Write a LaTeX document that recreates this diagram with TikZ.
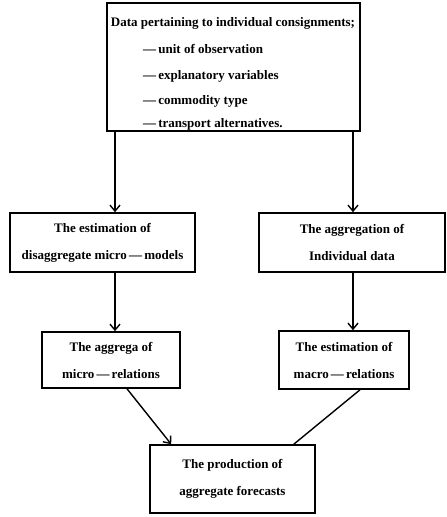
\documentclass[tikz,border=0pt]{standalone}
\usepackage{fontspec}
\setmainfont{Liberation Serif}
\usetikzlibrary{arrows.meta,calc}
\tikzset{
    box/.style={draw,line width=1.6pt,inner sep=0pt,align=center,font=\fontsize{13}{27}\selectfont\bfseries},
    txt/.style={inner sep=0pt,font=\fontsize{13}{16}\selectfont\bfseries},
    arr/.style={-{Straight Barb[length=6pt,width=10pt]},line width=1.4pt},
    link/.style={line width=1.4pt},
}

\begin{document}
\begin{tikzpicture}[x=1pt,y=-1pt]
    \useasboundingbox (0,0) rectangle (447,517);
    % data box
    \node[box,minimum width=253pt,minimum height=128pt] (data) at (233.5,67) {};
    \node[txt,anchor=base] (head) at (233,26) {Data pertaining to individual consignments;};
    \node[txt,anchor=base west] (unit) at (143,53) {—\,unit of observation};
    \node[txt,anchor=base west] (expl) at (143,79) {—\,explanatory variables};
    \node[txt,anchor=base west] (comm) at (143,104) {—\,commodity type};
    \node[txt,anchor=base west] (trans) at (143,127) {—\,transport alternatives.};
    % models
    \node[box,minimum width=185pt,minimum height=59pt] (estmicro) at (102.5,242.5) {The estimation of\\disaggregate micro\,—\,models};
    \node[box,minimum width=186pt,minimum height=59pt] (aggind) at (352,242.5) {The aggregation of\\Individual data};
    \node[box,minimum width=138pt,minimum height=56pt] (aggmicro) at (111,360) {The aggrega of\\micro\,—\,relations};
    \node[box,minimum width=130pt,minimum height=58pt] (estmacro) at (344,360) {The estimation of\\macro\,—\,relations};
    \node[box,minimum width=165pt,minimum height=68pt] (prod) at (232.5,479) {The production of\\aggregate forecasts};
    \coordinate (lx) at (115,0);
    \coordinate (rx) at (353,0);
    \draw[arr] (lx |- data.south) -- (lx |- estmicro.north);
    \draw[arr] (rx |- data.south) -- (rx |- aggind.north);
    \draw[arr] (lx |- estmicro.south) -- (lx |- aggmicro.north);
    \draw[arr] (rx |- aggind.south) -- (rx |- estmacro.north);
    \draw[arr] ($(aggmicro.south)+(16,0)$) -- ($(prod.north west)+(22,0)$);
    \draw[link] ($(estmacro.south)+(16,0)$) -- ($(prod.north east)+(-22,0)$);
\end{tikzpicture}
\end{document}
